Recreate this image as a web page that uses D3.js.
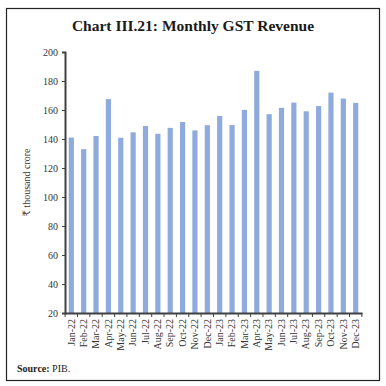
<!DOCTYPE html>
<html>
<head>
<meta charset="utf-8">
<script src="https://cdn.jsdelivr.net/npm/d3@7"></script>
<style>
  body { margin: 0; background: #fff; }
  svg text { font-family: "Liberation Serif", "DejaVu Serif", serif; }
</style>
</head>
<body>
<div id="chart"></div>
<script>
// monthly GST collections, ₹ thousand crore
const months = ["Jan-22", "Feb-22", "Mar-22", "Apr-22", "May-22", "Jun-22", "Jul-22", "Aug-22",
  "Sep-22", "Oct-22", "Nov-22", "Dec-22", "Jan-23", "Feb-23", "Mar-23", "Apr-23", "May-23",
  "Jun-23", "Jul-23", "Aug-23", "Sep-23", "Oct-23", "Nov-23", "Dec-23"];
const revenue = [141.0, 133.0, 142.1, 167.5, 140.9, 144.6, 149.0, 143.6, 147.7, 151.7, 145.9, 149.5,
  155.9, 149.6, 160.1, 187.0, 157.1, 161.5, 165.1, 159.1, 162.7, 172.0, 167.9, 164.9];
const yTicks = [20, 40, 60, 80, 100, 120, 140, 160, 180, 200];

const W = 386, H = 386;
const margin = {left: 65, right: 24, top: 52, bottom: 73};

const svg = d3.select("#chart").append("svg")
  .attr("width", W)
  .attr("height", H);

// outer frame
svg.append("rect")
  .attr("x", 6.5).attr("y", 8.5)
  .attr("width", 373).attr("height", 372)
  .attr("fill", "none")
  .attr("stroke", "#222")
  .attr("stroke-width", 1.2);

svg.append("text")
  .attr("x", 193).attr("y", 31)
  .attr("text-anchor", "middle")
  .attr("font-size", 15.5)
  .attr("font-weight", "bold")
  .attr("fill", "#1a1a1a")
  .text("Chart III.21: Monthly GST Revenue");

const x = d3.scaleBand()
  .domain(months)
  .range([margin.left, W - margin.right])
  .paddingInner(0.58)
  .paddingOuter(0.3);

const y = d3.scaleLinear()
  .domain([20, 200])
  .range([H - margin.bottom, margin.top]);

svg.append("g")
  .selectAll("rect")
  .data(months)
  .enter().append("rect")
  .attr("x", d => x(d))
  .attr("width", x.bandwidth())
  .attr("y", (d, i) => y(revenue[i]))
  .attr("height", (d, i) => y(20) - y(revenue[i]))
  .attr("fill", "#8faadc");

const yAxis = svg.append("g")
  .attr("transform", `translate(${margin.left},0)`)
  .call(d3.axisLeft(y).tickValues(yTicks).tickSize(3).tickPadding(4));

const step = x.step();
const xAxis = svg.append("g")
  .attr("transform", `translate(0,${H - margin.bottom})`)
  .call(d3.axisBottom(x).tickSize(0).tickPadding(5));

// tick marks sit between the bars
const gapStart = x(months[0]) - step * 0.29;
xAxis.selectAll(".sep")
  .data(d3.range(months.length + 1))
  .enter().append("line")
  .attr("class", "sep")
  .attr("x1", i => gapStart + i * step)
  .attr("x2", i => gapStart + i * step)
  .attr("y1", 0).attr("y2", 4)
  .attr("stroke", "#404040");

xAxis.selectAll(".tick text")
  .attr("transform", "rotate(-90)")
  .attr("text-anchor", "end")
  .attr("x", -6).attr("y", 0)
  .attr("dy", "0.32em");

[yAxis, xAxis].forEach(g => {
  g.selectAll(".domain").attr("stroke", "#404040").attr("stroke-width", 2);
  g.selectAll(".tick line").attr("stroke", "#404040");
  g.selectAll(".tick text").attr("font-size", 10).attr("fill", "#333");
});

svg.append("text")
  .attr("transform", `translate(30,${(margin.top + H - margin.bottom) / 2}) rotate(-90)`)
  .attr("text-anchor", "middle")
  .attr("font-size", 10)
  .attr("fill", "#333")
  .text("₹ thousand crore");

const src = svg.append("text")
  .attr("x", 17).attr("y", 372)
  .attr("font-size", 10)
  .attr("fill", "#222");
src.append("tspan").attr("font-weight", "bold").text("Source: ");
src.append("tspan").text("PIB.");
</script>
</body>
</html>
